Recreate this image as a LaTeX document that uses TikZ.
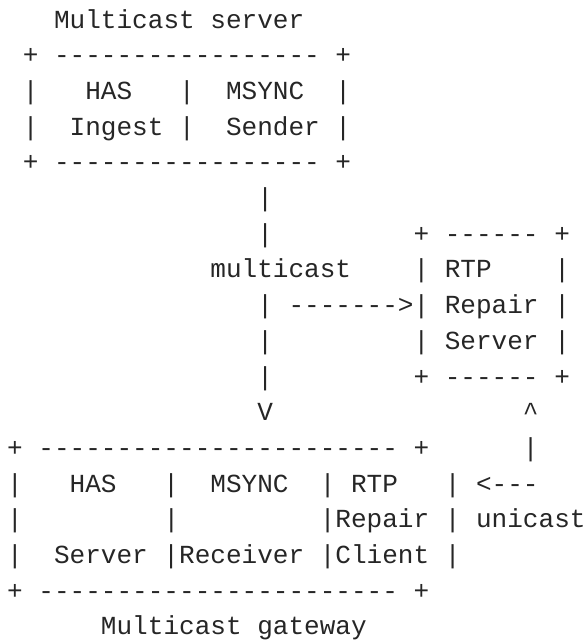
\documentclass[tikz,border=0pt]{standalone}
\usepackage{fontspec}
\setmonofont[WordSpace={1,0,0}]{Liberation Mono}
\definecolor{ink}{HTML}{262626}
\tikzset{
  asc/.style={anchor=base west, inner sep=0pt, outer sep=0pt, text=ink,
    font=\ttfamily\fontsize{26.05}{30}\selectfont}
}
% #1 name, #2 column, #3 row, #4 text
\newcommand\ascline[4]{\node[asc] (#1) at ({7.2+#2*15.63},{-(28+(#3-1)*35.7)}) {#4};}
\begin{document}
\begin{tikzpicture}[x=1pt,y=1pt]
\useasboundingbox (0,0) rectangle (586,-643);
% multicast server
\ascline{title}{3}{1}{Multicast server}
\ascline{srvtop}{1}{2}{+ ----------------- +}
\ascline{srva}{1}{3}{|~~~HAS~~~|~~MSYNC~~|}
\ascline{srvb}{1}{4}{|~~Ingest~|~~Sender~|}
\ascline{srvbot}{1}{5}{+ ----------------- +}
% multicast path
\ascline{mca}{16}{6}{|}
\ascline{mcb}{16}{7}{|}
\ascline{mclabel}{13}{8}{multicast}
\ascline{mcc}{16}{9}{|}
\ascline{arrow}{18}{9}{------->}
\ascline{mcd}{16}{10}{|}
\ascline{mce}{16}{11}{|}
\ascline{mcv}{16}{12}{V}
% RTP repair server
\ascline{rstop}{26}{7}{+ ------ +}
\ascline{rsa}{26}{8}{|~RTP~~~~|}
\ascline{rsb}{26}{9}{|~Repair~|}
\ascline{rsc}{26}{10}{|~Server~|}
\ascline{rsbot}{26}{11}{+ ------ +}
% unicast path
\ascline{uca}{33}{12}{\textasciicircum}
\ascline{ucb}{33}{13}{|}
\ascline{ucc}{30}{14}{<---}
\ascline{uclabel}{30}{15}{unicast}
% multicast gateway
\ascline{gwtop}{0}{13}{+ ----------------------- +}
\ascline{gwa}{0}{14}{|~~~HAS~~~|~~MSYNC~~|~RTP~~~|}
\ascline{gwb}{0}{15}{|~~~~~~~~~|~~~~~~~~~|Repair~|}
\ascline{gwc}{0}{16}{|~~Server~|Receiver~|Client~|}
\ascline{gwbot}{0}{17}{+ ----------------------- +}
\ascline{gwname}{6}{18}{Multicast gateway}
\end{tikzpicture}
\end{document}
